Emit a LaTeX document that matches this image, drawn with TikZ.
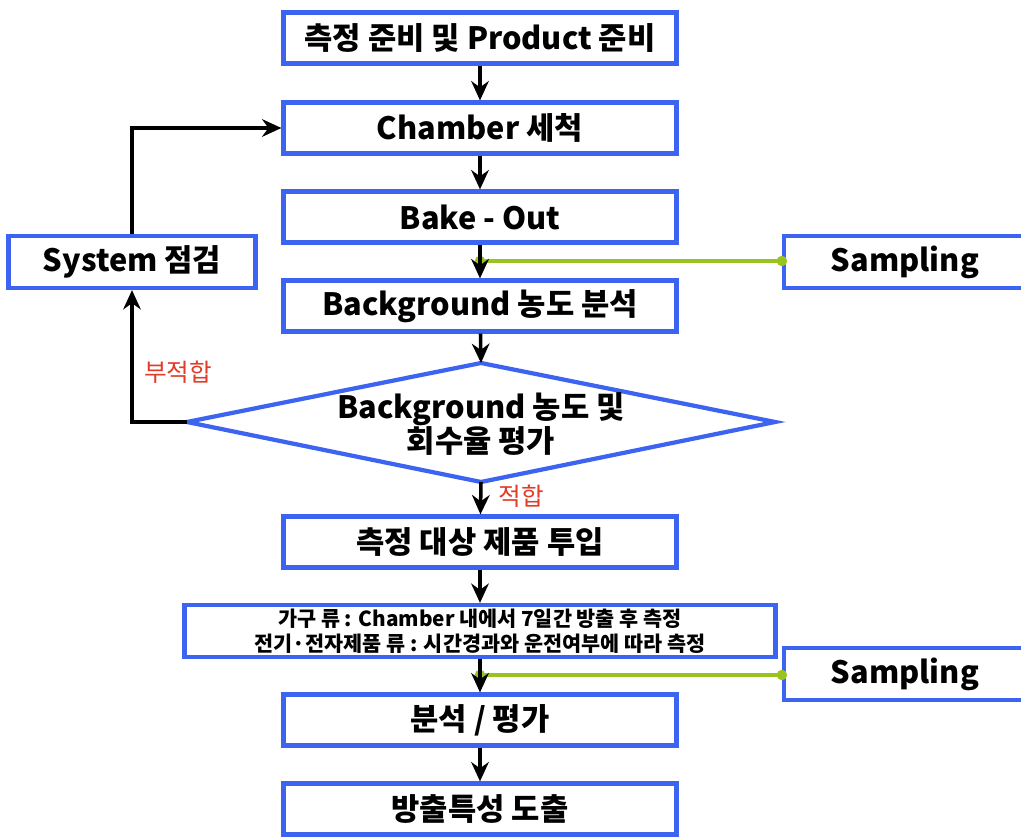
\documentclass[tikz,border=0pt]{standalone}
\usepackage{fontspec}
\setmainfont{Noto Sans CJK KR}
\usetikzlibrary{arrows.meta}
\definecolor{bblue}{HTML}{3C64F0}
\definecolor{lgreen}{HTML}{99C31E}
\definecolor{lred}{HTML}{E03C28}
\begin{document}
\begin{tikzpicture}[x=0.02cm,y=-0.02cm,
  box/.style={draw=bblue,line width=2.4pt,fill=white,inner sep=0pt,font=\fontsize{17.5}{21}\selectfont\bfseries},
  mainbox/.style={box,minimum width=7.86cm,minimum height=1.02cm},
  arr/.style={-{Stealth[length=11pt,width=10pt]},line width=2pt,black},
  gline/.style={draw=lgreen,line width=2.2pt},
  gdot/.style={circle,fill=lgreen,inner sep=0pt,minimum size=6pt},
  lab/.style={text=lred,font=\fontsize{14}{16}\selectfont}]
\useasboundingbox (0,0) rectangle (1021,837);
\begin{scope}
\clip (0,0) rectangle (1021,837);
\node[box,minimum width=4.84cm,minimum height=1.04cm] (s1) at (905,262) {Sampling};
\node[box,minimum width=4.84cm,minimum height=1.04cm] (s2) at (905,674) {Sampling};
\end{scope}
\node[mainbox] (b1) at (480,38) {측정 준비 및 Product 준비};
\node[mainbox] (b2) at (480,128) {Chamber 세척};
\node[mainbox] (b3) at (480,217) {Bake - Out};
\node[mainbox] (b4) at (480,306) {Background 농도 분석};
\coordinate (dN) at (481,363);
\coordinate (dS) at (481,482);
\coordinate (dW) at (187,422);
\coordinate (dE) at (775,422);
\draw[draw=bblue,line width=2.4pt,fill=white] (dN) -- (dE) -- (dS) -- (dW) -- cycle;
\node[align=center,inner sep=0pt,font=\fontsize{17.5}{19.5}\selectfont\bfseries] (d) at (481,424) {Background 농도 및\\회수율 평가};
\node[mainbox] (b5) at (480,542) {측정 대상 제품 투입};
\node[box,minimum width=11.82cm,minimum height=1.04cm,align=center,font=\fontsize{11.8}{14}\selectfont\bfseries] (b6) at (480,631) {가구 류 : Chamber 내에서 7일간 방출 후 측정\\전기·전자제품 류 : 시간경과와 운전여부에 따라 측정};
\node[mainbox] (b7) at (480,720) {분석 / 평가};
\node[mainbox] (b8) at (480,809) {방출특성 도출};
\node[box,minimum width=4.94cm,minimum height=1.04cm] (sys) at (132,262) {System 점검};
\coordinate (g1) at (480,261);
\coordinate (g2) at (480,675);
\draw[gline] (g1) -- (g1 -| s1.west);
\draw[gline] (g2) -- (g2 -| s2.west);
\node[gdot] at (g1) {};
\node[gdot] at (g1 -| s1.west) {};
\node[gdot] at (g2) {};
\node[gdot] at (g2 -| s2.west) {};
\draw[arr] (b1) -- (b2);
\draw[arr] (b2) -- (b3);
\draw[arr] (b3) -- (b4);
\draw[arr] (b4) -- (dN);
\draw[arr] (dS) -- (b5);
\draw[arr] (b5) -- (b6);
\draw[arr] (b6) -- (b7);
\draw[arr] (b7) -- (b8);
\draw[arr] (dW) -| (sys.south);
\draw[arr] (sys.north) |- (b2.west);
\node[lab] (nf) at (178,372) {부적합};
\node[lab] (ok) at (521,496) {적합};
\end{tikzpicture}
\end{document}
